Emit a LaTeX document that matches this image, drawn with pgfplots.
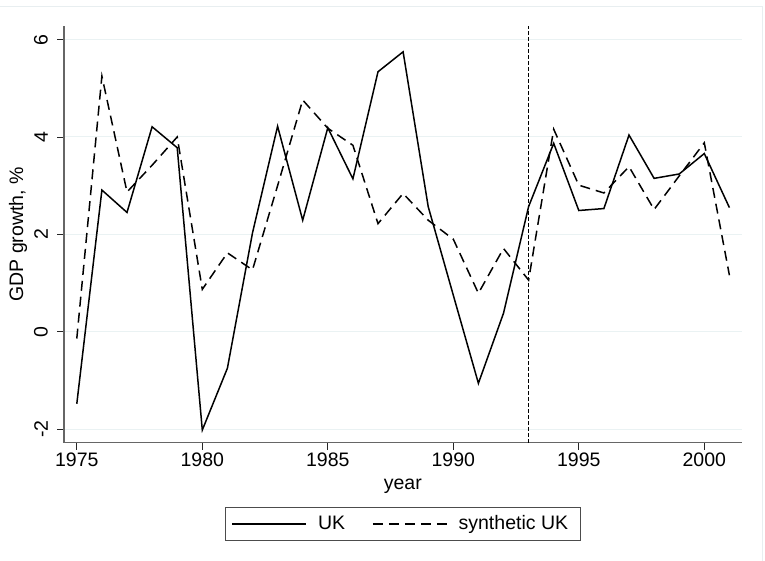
\documentclass[border=0pt]{standalone}
\usepackage{fontspec}
\setmainfont{Liberation Sans}
\usepackage{pgfplots}
\pgfplotsset{compat=1.18}
\definecolor{gridc}{RGB}{234,242,243}
\definecolor{borderc}{RGB}{232,238,240}
\begin{document}
\fontsize{19.5bp}{23bp}\selectfont
\begin{tikzpicture}
\useasboundingbox (-64bp,-118.3bp) rectangle (701bp,442.7bp);
\draw[borderc, line width=0.8bp] (-64bp,436.7bp) -- (698bp,436.7bp) -- (698bp,-118.3bp);
\begin{axis}[
  scale only axis,
  width=677.7bp, height=416.7bp,
  at={(0,0)}, anchor=south west,
  xmin=1974.49, xmax=2001.49,
  ymin=-2.28, ymax=6.28,
  axis x line*=bottom, axis y line*=left,
  axis line style={-, black!60, line width=1.1bp},
  xtick={1975,1980,1985,1990,1995,2000},
  ytick={-2,0,2,4,6},
  tick align=outside,
  major tick length=7bp,
  tick style={black!85, line width=0.8bp},
  minor tick num=0,
  ymajorgrids,
  grid style={gridc, line width=1bp},
  /pgf/number format/assume math mode=true,
  /pgf/number format/1000 sep={},
  xticklabel style={font=\fontsize{19.5bp}{23bp}\selectfont, inner sep=3bp},
  yticklabel style={font=\fontsize{19.5bp}{23bp}\selectfont, rotate=90, anchor=south, inner ysep=9bp},
  xlabel={year},
  ylabel={GDP growth, \%},
  xlabel style={font=\fontsize{19.5bp}{23bp}\selectfont, at={(axis description cs:0.5,0)}, anchor=center, yshift=-43.3bp},
  ylabel style={font=\fontsize{19.5bp}{23bp}\selectfont, at={(axis description cs:-0.0679,0.5)}, anchor=center},
  legend columns=2,
  legend style={at={(0.5,-0.195)}, anchor=center, draw=black!70, line width=0.8bp,
    font=\fontsize{19.5bp}{23bp}\selectfont, inner xsep=6bp, inner ysep=6bp,
    /tikz/every odd column/.append style={column sep=9bp},
    /tikz/every even column/.append style={column sep=25bp}},
  legend image code/.code={\draw[#1] (0bp,0bp) -- (74bp,0bp);},
  clip=false,
]
\addplot[black, line width=1.5bp, solid] coordinates {
(1975,-1.48) (1976,2.91) (1977,2.45) (1978,4.21) (1979,3.78) (1980,-2.02)
(1981,-0.75) (1982,2.03) (1983,4.22) (1984,2.29) (1985,4.19) (1986,3.14)
(1987,5.34) (1988,5.75) (1989,2.57) (1990,0.75) (1991,-1.06) (1992,0.38)
(1993,2.57) (1994,3.87) (1995,2.49) (1996,2.53) (1997,4.04) (1998,3.15)
(1999,3.24) (2000,3.66) (2001,2.55)};
\addlegendentry{UK}
\addplot[black, line width=1.5bp, dash pattern=on 10bp off 6bp] coordinates {
(1975,-0.14) (1976,5.25) (1977,2.87) (1978,3.42) (1979,4.00) (1980,0.87)
(1981,1.62) (1982,1.27) (1983,3.00) (1984,4.76) (1985,4.18) (1986,3.83)
(1987,2.22) (1988,2.84) (1989,2.29) (1990,1.90) (1991,0.79) (1992,1.71)
(1993,1.06) (1994,4.16) (1995,3.01) (1996,2.85) (1997,3.39) (1998,2.51)
(1999,3.20) (2000,3.88) (2001,1.16)};
\addlegendentry{synthetic UK\hspace*{4bp}}
\addplot[black, line width=1.5bp, dash pattern=on 3.5bp off 2.5bp, forget plot] coordinates {(1993,-2.28) (1993,6.28)};
\end{axis}
\end{tikzpicture}
\end{document}
